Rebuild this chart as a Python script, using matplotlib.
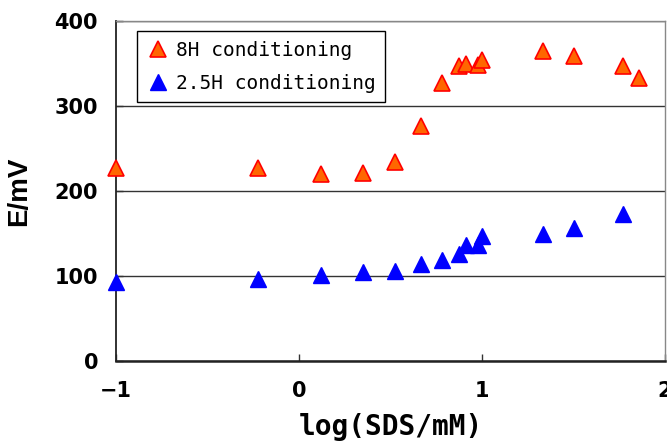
import matplotlib
matplotlib.use("Agg")
import matplotlib.pyplot as plt

x_8h = [-1.0, -0.223, 0.118, 0.351, 0.526, 0.669, 0.779, 0.876, 0.914, 0.976, 1.002, 1.331, 1.504, 1.769, 1.857]
y_8h = [227, 227, 220, 221.5, 234, 277, 326.5, 347, 350, 348.5, 354, 365, 359, 347, 333.5]

x_25h = [-1.0, -0.223, 0.118, 0.351, 0.526, 0.669, 0.779, 0.876, 0.914, 0.976, 1.002, 1.331, 1.504, 1.769]
y_25h = [93, 96, 101, 105, 106.5, 114, 119.5, 126.5, 137, 137, 147.5, 149.5, 156.5, 173.5]

labels = ["8H conditioning", "2.5H conditioning"]
x_ticks = [-1, 0, 1, 2]
y_ticks = [0, 100, 200, 300, 400]

fig = plt.figure(figsize=(6.67, 4.42), dpi=100)
ax = fig.add_axes([0.174, 0.183, 0.823, 0.7695])

ax.plot(x_8h, y_8h, linestyle="none", marker="^", markersize=11,
        markerfacecolor="#FF6600", markeredgecolor="#FF0000", markeredgewidth=1.2,
        label=labels[0], zorder=3, clip_on=False)
ax.plot(x_25h, y_25h, linestyle="none", marker="^", markersize=11,
        markerfacecolor="#0000FF", markeredgecolor="#0000FF", markeredgewidth=1.0,
        label=labels[1], zorder=3, clip_on=False)

ax.set_xlim(-1, 2)
ax.set_ylim(0, 400)
ax.set_xticks(x_ticks)
ax.set_yticks(y_ticks)
ax.set_xticklabels(["\u22121", "0", "1", "2"])
ax.yaxis.grid(True, color="#333333", linewidth=1.0)
ax.set_axisbelow(True)

for s in ["top", "right"]:
    ax.spines[s].set_color("#888888")
    ax.spines[s].set_linewidth(1.0)
ax.spines["left"].set_color("#222222")
ax.spines["left"].set_linewidth(1.3)
ax.spines["bottom"].set_color("#222222")
ax.spines["bottom"].set_linewidth(1.8)

ax.tick_params(axis="y", direction="in", length=5, width=1, color="#333333",
               labelsize=15, pad=13)
ax.tick_params(axis="x", direction="in", length=5, width=1, color="#333333",
               labelsize=15, pad=14)
for lab in ax.get_xticklabels() + ax.get_yticklabels():
    lab.set_fontfamily(["DejaVu Sans"])
    lab.set_fontweight("bold")

ax.set_xlabel("log(SDS/mM)", fontsize=20, fontweight="bold",
              family=["DejaVu Sans Mono", "DejaVu Sans"], labelpad=9)
ax.set_ylabel("E/mV", fontsize=20, fontweight="bold",
              family=["Liberation Sans", "DejaVu Sans"], labelpad=16)

leg = ax.legend(loc="upper left", bbox_to_anchor=(0.038, 0.97), frameon=True,
                fancybox=False, edgecolor="black", framealpha=1,
                prop={"family": ["DejaVu Sans Mono", "DejaVu Sans"], "size": 14},
                handletextpad=0.3, handlelength=1.2, borderpad=0.5, labelspacing=0.7,
                borderaxespad=0)
leg.get_frame().set_linewidth(1.0)

fig.savefig("out.png", dpi=100)
